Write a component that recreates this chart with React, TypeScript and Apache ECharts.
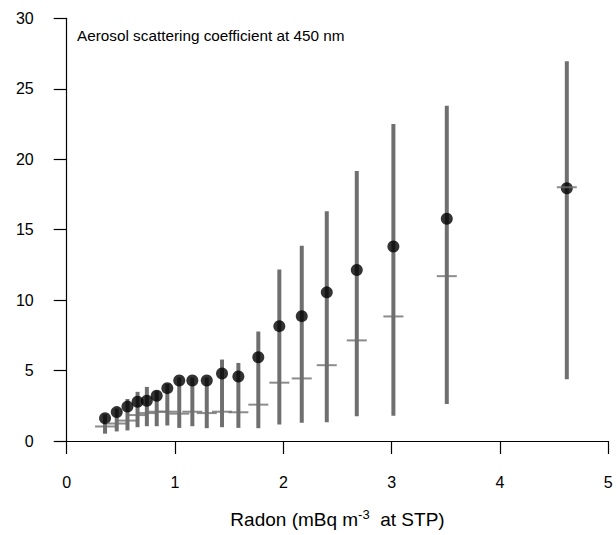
import React, { useEffect, useRef } from "react";
import * as echarts from "echarts";

// Radon concentration (bin centres), mBq m-3 at STP
const radon = [0.354, 0.462, 0.561, 0.654, 0.740, 0.831, 0.929, 1.039, 1.160, 1.293, 1.434, 1.585, 1.769, 1.963, 2.170, 2.401, 2.678, 3.016, 3.509, 4.617];
// Aerosol scattering coefficient at 450 nm
const meanScat = [1.61, 2.05, 2.44, 2.79, 2.86, 3.21, 3.75, 4.29, 4.29, 4.29, 4.79, 4.58, 5.94, 8.15, 8.86, 10.55, 12.14, 13.80, 15.77, 17.94];
const medianScat = [1.03, 1.24, 1.45, 1.84, 1.98, 2.08, 2.08, 1.94, 2.08, 1.98, 2.08, 2.04, 2.58, 4.14, 4.44, 5.38, 7.14, 8.84, 11.70, 18.01];
const lowScat = [0.52, 0.68, 0.75, 0.98, 1.05, 1.05, 1.10, 0.93, 1.05, 0.91, 0.98, 0.93, 0.91, 1.17, 1.29, 1.33, 1.75, 1.80, 2.62, 4.38];
const highScat = [1.9, 2.3, 2.98, 3.49, 3.84, 3.56, 4.05, 4.5, 4.5, 4.5, 5.78, 5.54, 7.77, 12.17, 13.85, 16.31, 19.16, 22.5, 23.79, 26.95];

const xTicks = [0, 1, 2, 3, 4, 5];
const yTicks = [0, 5, 10, 15, 20, 25, 30];

const FONT = "'Liberation Sans', Arial, Helvetica, sans-serif";
const GRAY = "#6f6f6f";

export default function App() {
  const ref = useRef<HTMLDivElement>(null);
  useEffect(() => {
    document.body.style.margin = "0";
    const chart = echarts.init(ref.current!, undefined, { renderer: "svg" });
    const rangeData = radon.map((x, i) => [x, lowScat[i], highScat[i]]);
    const medData = radon.map((x, i) => [x, medianScat[i]]);
    const meanData = radon.map((x, i) => [x, meanScat[i]]);
    const axisLine = { show: true, lineStyle: { color: "#000", width: 1.2 } };
    chart.setOption({
      animation: false,
      textStyle: { fontFamily: FONT },
      grid: { left: 66.7, right: 7.7, top: 18.3, bottom: 89.3, containLabel: false },
      graphic: [
        {
          type: "text",
          left: 77,
          top: 28,
          style: { text: "Aerosol scattering coefficient at 450 nm", font: `15.3px ${FONT}`, fill: "#000" },
        },
      ],
      xAxis: {
        type: "value",
        min: xTicks[0],
        max: xTicks[xTicks.length - 1],
        interval: 1,
        axisLine,
        axisTick: { show: true, length: 13, lineStyle: { color: "#000", width: 1.2 } },
        splitLine: { show: false },
        axisLabel: { fontSize: 16, color: "#000", margin: 33, fontFamily: FONT },
        name: "Radon (mBq m{sup|-3}  at STP)",
        nameLocation: "middle",
        nameGap: 67,
        nameTextStyle: {
          fontSize: 19,
          color: "#000",
          fontFamily: FONT,
          lineHeight: 22,
          rich: {
            sup: { fontSize: 13, verticalAlign: "top", lineHeight: 12, color: "#000", fontFamily: FONT },
          },
        },
      },
      yAxis: {
        type: "value",
        min: yTicks[0],
        max: yTicks[yTicks.length - 1],
        interval: 5,
        axisLine,
        axisTick: { show: true, length: 13, lineStyle: { color: "#000", width: 1.2 } },
        splitLine: { show: false },
        axisLabel: { fontSize: 16, color: "#000", margin: 33, fontFamily: FONT },
      },
      series: [
        {
          type: "custom",
          data: rangeData,
          z: 1,
          renderItem: (params: any, api: any) => {
            const x = api.value(0);
            const p1 = api.coord([x, api.value(1)]);
            const p2 = api.coord([x, api.value(2)]);
            return {
              type: "line",
              shape: { x1: p1[0], y1: p1[1], x2: p2[0], y2: p2[1] },
              style: { stroke: GRAY, lineWidth: 4, lineCap: "butt" },
            };
          },
          encode: { x: 0, y: [1, 2] },
        },
        {
          type: "scatter",
          data: meanData,
          symbol: "circle",
          symbolSize: 12,
          itemStyle: { color: "#000" },
          z: 2,
        },
        {
          type: "scatter",
          data: medData,
          symbol: "rect",
          symbolSize: [20, 2],
          itemStyle: { color: GRAY },
          z: 3,
        },
      ],
    });
    return () => chart.dispose();
  }, []);
  return <div ref={ref} style={{ width: 616, height: 535 }} />;
}
